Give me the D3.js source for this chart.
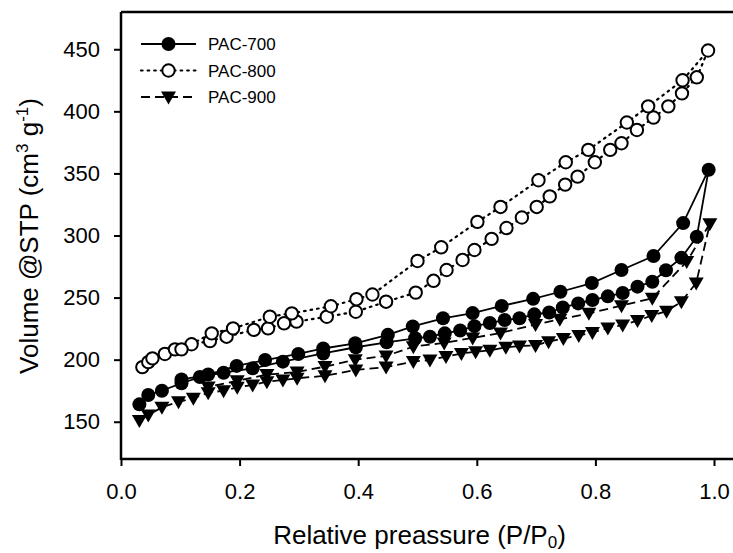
<!DOCTYPE html>
<meta charset="utf-8">
<style>
    body { margin: 0; background: #fff; }
    svg text { font-family: "Liberation Sans", Arial, sans-serif; fill: #000; }
    .tick text { font-size: 22px; }
</style>
<svg width="733" height="553"></svg>
<script src="https://d3js.org/d3.v7.min.js"></script>
<script>

    // relative pressure / volume pairs
    var pac700Ads = [[0.031,164],[0.046,171.5],[0.069,175],[0.102,181],[0.133,186],[0.173,189.5],
        [0.222,193],[0.273,198.4],[0.341,205],[0.396,210],[0.448,214],[0.496,217.2],[0.521,218.5],
        [0.546,221.2],[0.572,223.5],[0.596,227],[0.622,229.5],[0.647,232],[0.672,233.3],[0.697,236.5],
        [0.722,238],[0.745,242],[0.771,245.3],[0.795,248],[0.821,251],[0.846,253.7],[0.871,258.8],
        [0.896,262.8],[0.919,272],[0.945,282],[0.971,299],[0.991,353]];
    var pac700Des = [[0.991,353],[0.948,310],[0.898,283.5],[0.844,272.2],[0.794,261.7],[0.741,254.7],
        [0.695,249],[0.642,243.3],[0.593,237.5],[0.543,233.3],[0.492,226.8],[0.450,220],[0.395,213.2],
        [0.341,209],[0.299,204.6],[0.243,199.7],[0.195,195],[0.147,188],[0.102,184]];

    var pac800Ads = [[0.036,194],[0.046,198],[0.053,201],[0.074,204.6],[0.091,208.3],[0.119,212.4],
        [0.150,215],[0.178,218.5],[0.224,224],[0.248,225.2],[0.275,229.3],[0.296,230.6],[0.347,234.6],
        [0.396,238.6],[0.447,246.7],[0.497,254],[0.527,263.5],[0.549,272.2],[0.576,280.3],[0.596,288.3],
        [0.625,297.3],[0.650,306],[0.676,314.5],[0.701,323],[0.723,331.5],[0.749,341],[0.770,347.4],
        [0.799,359],[0.825,369],[0.844,374.3],[0.870,385],[0.898,395],[0.923,404],[0.946,414.5],
        [0.971,427.4],[0.990,449]];
    var pac800Des = [[0.990,449],[0.947,425],[0.889,404],[0.853,391],[0.788,369],[0.750,359],
        [0.704,344.5],[0.640,323],[0.601,311],[0.540,290.5],[0.500,279.5],[0.424,252.5],[0.397,248.7],
        [0.354,243],[0.288,237.3],[0.251,234.6],[0.189,225.2],[0.153,221.2],[0.102,208.3]];

    var pac900Ads = [[0.031,151],[0.046,155.4],[0.069,161.6],[0.097,166.1],[0.122,169],[0.147,173.4],
        [0.173,175],[0.196,177.7],[0.222,179.6],[0.246,182.3],[0.273,183.6],[0.297,185],[0.344,187],
        [0.396,191.7],[0.447,194],[0.493,198.5],[0.521,199.7],[0.548,202.5],[0.574,205],[0.598,206.4],
        [0.622,207.5],[0.649,210],[0.672,211],[0.699,211.5],[0.721,214.5],[0.746,217],[0.772,219.5],
        [0.795,221.8],[0.821,225.5],[0.846,228],[0.871,231.5],[0.895,235.5],[0.920,239],[0.945,246.7],
        [0.970,261.8],[0.993,309.5]];
    var pac900Des = [[0.993,309.5],[0.954,279],[0.896,249.5],[0.844,243.5],[0.789,237.3],[0.740,232.5],
        [0.699,228.3],[0.640,221.5],[0.593,217.5],[0.545,213.5],[0.493,210.5],[0.447,203],[0.395,200],
        [0.344,194.4],[0.297,190],[0.246,188],[0.196,183],[0.147,178]];

    var seriesNames = ["PAC-700", "PAC-800", "PAC-900"];
    var xTicks = [0, 0.2, 0.4, 0.6, 0.8, 1.0];
    var yTicks = [150, 200, 250, 300, 350, 400, 450];

    var series = [
        {name: seriesNames[0], ads: pac700Ads, des: pac700Des, marker: "filled", dash: null},
        {name: seriesNames[1], ads: pac800Ads, des: pac800Des, marker: "open", dash: "1.6,5"},
        {name: seriesNames[2], ads: pac900Ads, des: pac900Des, marker: "tri", dash: "9,5"}
    ];

    var svg = d3.select("svg"),
        plotL = 121, plotR = 714, plotT = 12, plotB = 459;

    var x = d3.scaleLinear().domain([0, 1]).range([plotL, plotR]);
    var y = d3.scaleLinear().domain([120, 480]).range([plotB, plotT]);

    // axes
    var gx = svg.append("g")
        .attr("transform", "translate(0," + plotB + ")")
        .call(d3.axisBottom(x).tickValues(xTicks).tickSize(7).tickPadding(17)
            .tickFormat(d3.format(".1f")));
    var gy = svg.append("g")
        .attr("transform", "translate(" + plotL + ",0)")
        .call(d3.axisLeft(y).tickValues(yTicks).tickSize(7).tickPadding(14));
    [gx, gy].forEach(function (g) {
        g.select(".domain").remove();
        g.selectAll(".tick line").attr("stroke", "#000").attr("stroke-width", 2);
        g.selectAll(".tick text").attr("fill", "#000");
    });

    // frame: left, bottom and top lines, open on the right
    var frame = svg.append("g").attr("stroke", "#000").attr("stroke-width", 2.5).attr("fill", "none");
    frame.append("line").attr("x1", plotL).attr("x2", plotL).attr("y1", plotT).attr("y2", plotB + 1);
    frame.append("line").attr("x1", plotL).attr("x2", 733).attr("y1", plotB).attr("y2", plotB);
    frame.append("line").attr("x1", plotL).attr("x2", 733).attr("y1", plotT).attr("y2", plotT);

    var line = d3.line()
        .x(function (d) { return x(d[0]); })
        .y(function (d) { return y(d[1]); });

    function drawMarker(sel, kind) {
        if (kind === "filled") {
            sel.append("circle").attr("r", 7).attr("fill", "#000");
        } else if (kind === "open") {
            sel.append("circle").attr("r", 6.2).attr("fill", "#fff")
                .attr("stroke", "#000").attr("stroke-width", 2);
        } else {
            sel.append("path").attr("d", "M-7.5,-5.5L7.5,-5.5L0,7.5Z").attr("fill", "#000");
        }
    }

    series.forEach(function (s) {
        var pts = s.ads.concat(s.des.slice(1));
        svg.append("path")
            .attr("d", line(pts))
            .attr("fill", "none")
            .attr("stroke", "#000")
            .attr("stroke-width", s.marker === "open" ? 2.2 : 1.8)
            .attr("stroke-linecap", s.marker === "open" ? "round" : "butt")
            .attr("stroke-dasharray", s.dash);
    });
    series.forEach(function (s) {
        svg.append("g").selectAll("g")
            .data(s.ads.concat(s.des.slice(1)))
            .enter().append("g")
            .attr("transform", function (d) { return "translate(" + x(d[0]) + "," + y(d[1]) + ")"; })
            .each(function () { drawMarker(d3.select(this), s.marker); });
    });

    // legend
    var legend = svg.append("g");
    series.forEach(function (s, i) {
        var ly = 44 + i * 26.5;
        var row = legend.append("g");
        row.append("line").attr("x1", 141).attr("x2", 196).attr("y1", ly).attr("y2", ly)
            .attr("stroke", "#000")
            .attr("stroke-width", s.marker === "open" ? 2.2 : 1.8)
            .attr("stroke-linecap", s.marker === "open" ? "round" : "butt")
            .attr("stroke-dasharray", s.dash);
        drawMarker(row.append("g").attr("transform", "translate(168.5," + ly + ")"), s.marker);
        row.append("text").attr("x", 208).attr("y", ly + 6)
            .style("font-size", "17px").text(s.name);
    });

    // axis titles
    var xt = svg.append("text")
        .attr("x", (plotL + plotR) / 2 + 2).attr("y", 544)
        .attr("text-anchor", "middle")
        .style("font-size", "26px");
    xt.append("tspan").text("Relative preassure (P/P");
    xt.append("tspan").attr("dy", 4).style("font-size", "17px").text("0");
    xt.append("tspan").attr("dy", -4).text(")");

    var yt = svg.append("text")
        .attr("transform", "translate(38,236) rotate(-90)")
        .attr("text-anchor", "middle")
        .style("font-size", "26px");
    yt.append("tspan").text("Volume @STP (cm");
    yt.append("tspan").attr("dy", -10).style("font-size", "17px").text("3");
    yt.append("tspan").attr("dy", 10).text(" g");
    yt.append("tspan").attr("dy", -10).style("font-size", "17px").text("-1");
    yt.append("tspan").attr("dy", 10).text(")");
</script>
